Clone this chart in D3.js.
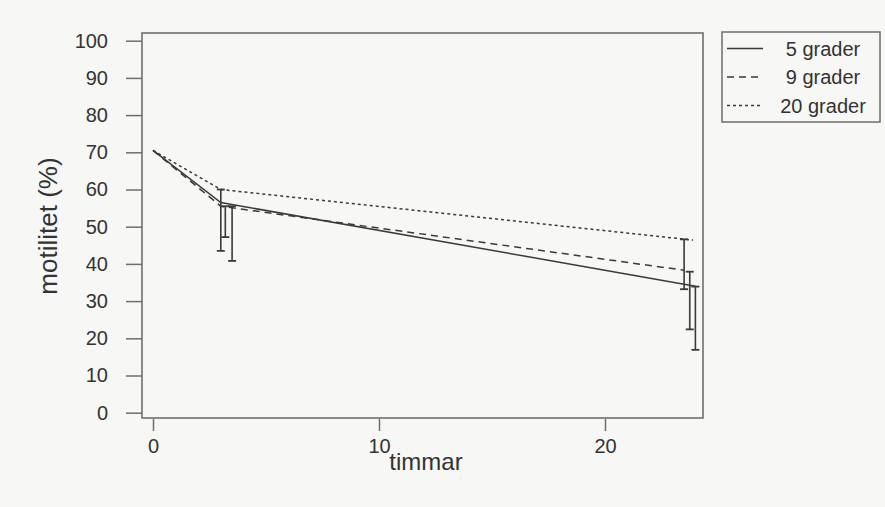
<!DOCTYPE html>
<html>
<head>
<meta charset="utf-8">
<script src="https://cdn.jsdelivr.net/npm/d3@7"></script>
<style>
  body { margin: 0; background: #f7f7f5; }
  svg { display: block; font-family: "Liberation Sans", Arial, sans-serif; }
</style>
</head>
<body>
<div id="chart"></div>
<script>
// data
const seriesNames = ["5 grader", "9 grader", "20 grader"];
const dashes = ["none", "7,5", "3,3"];

// line points per series (timmar, motilitet %)
const times5 = [0, 3, 24];
const values5 = [70.5, 56.5, 34];
const times9 = [0, 3, 23.5];
const values9 = [70.5, 55.5, 38.3];
const times20 = [0, 3, 23.9];
const values20 = [70.5, 60, 46.4];

// error bars (one-sided, from mean downward), slightly jittered in x
const errX5 = [3.5, 24];
const errTop5 = [55.5, 33.9];
const errLow5 = [40.8, 16.9];
const errX9 = [3.2, 23.75];
const errTop9 = [55.5, 37.9];
const errLow9 = [47.2, 22.4];
const errX20 = [3.0, 23.5];
const errTop20 = [60, 46.6];
const errLow20 = [43.5, 33.2];

const xTicks = [0, 10, 20];
const yTicks = [0, 10, 20, 30, 40, 50, 60, 70, 80, 90, 100];

const width = 885, height = 507;
const ink = "#3a3a3a", frame = "#6e6e6e", txt = "#333";

const svg = d3.select("#chart").append("svg")
  .attr("width", width)
  .attr("height", height);

svg.append("rect").attr("width", width).attr("height", height).attr("fill", "#f7f7f5");

const x = d3.scaleLinear().domain([0, 20]).range([153, 605]);
const y = d3.scaleLinear().domain([0, 100]).range([412.7, 40.7]);

// plot frame
svg.append("rect")
  .attr("x", 142).attr("y", 33)
  .attr("width", 703 - 142).attr("height", 418 - 33)
  .attr("fill", "none").attr("stroke", frame).attr("stroke-width", 1.6);

// y axis
const yAxis = svg.append("g")
  .attr("transform", "translate(142,0)")
  .call(d3.axisLeft(y).tickValues(yTicks).tickSize(16).tickPadding(18));
yAxis.select(".domain").remove();
yAxis.selectAll("line").attr("stroke", frame).attr("stroke-width", 1.5);
yAxis.selectAll("text").attr("fill", txt).style("font-size", "20px")
  .style("font-family", "Liberation Sans, Arial, sans-serif");

// x axis
const xAxis = svg.append("g")
  .attr("transform", "translate(0,419)")
  .call(d3.axisBottom(x).tickValues(xTicks).tickSize(12).tickPadding(8));
xAxis.select(".domain").remove();
xAxis.selectAll("line").attr("stroke", frame).attr("stroke-width", 1.5);
xAxis.selectAll("text").attr("fill", txt).style("font-size", "20px")
  .style("font-family", "Liberation Sans, Arial, sans-serif");

// axis titles
svg.append("text")
  .attr("x", 426).attr("y", 470)
  .attr("text-anchor", "middle")
  .attr("fill", txt).style("font-size", "24px")
  .text("timmar");

svg.append("text")
  .attr("transform", "translate(57,226) rotate(-90)")
  .attr("text-anchor", "middle")
  .attr("fill", txt).style("font-size", "26px")
  .text("motilitet (%)");

// build series
const series = [
  { name: seriesNames[0], dash: dashes[0], pts: times5.map((t, i) => [t, values5[i]]),
    err: errX5.map((t, i) => ({ t, top: errTop5[i], low: errLow5[i] })) },
  { name: seriesNames[1], dash: dashes[1], pts: times9.map((t, i) => [t, values9[i]]),
    err: errX9.map((t, i) => ({ t, top: errTop9[i], low: errLow9[i] })) },
  { name: seriesNames[2], dash: dashes[2], pts: times20.map((t, i) => [t, values20[i]]),
    err: errX20.map((t, i) => ({ t, top: errTop20[i], low: errLow20[i] })) }
];

const line = d3.line().x(d => x(d[0])).y(d => y(d[1]));

series.forEach(s => {
  svg.append("path")
    .datum(s.pts)
    .attr("d", line)
    .attr("fill", "none")
    .attr("stroke", ink)
    .attr("stroke-width", 1.5)
    .attr("stroke-dasharray", s.dash);

  const g = svg.append("g");
  s.err.forEach(e => {
    g.append("line")
      .attr("x1", x(e.t)).attr("x2", x(e.t))
      .attr("y1", y(e.top)).attr("y2", y(e.low))
      .attr("stroke", ink).attr("stroke-width", 1.6);
    [e.top, e.low].forEach(v => {
      g.append("line")
        .attr("x1", x(e.t) - 4).attr("x2", x(e.t) + 4)
        .attr("y1", y(v)).attr("y2", y(v))
        .attr("stroke", ink).attr("stroke-width", 1.8);
    });
  });
});

// legend
const legend = svg.append("g");
legend.append("rect")
  .attr("x", 722).attr("y", 32)
  .attr("width", 880 - 722).attr("height", 122 - 32)
  .attr("fill", "none").attr("stroke", frame).attr("stroke-width", 1.5);

series.forEach((s, i) => {
  const ly = 48.5 + i * 28.5;
  legend.append("line")
    .attr("x1", 727).attr("x2", 763)
    .attr("y1", ly).attr("y2", ly)
    .attr("stroke", ink).attr("stroke-width", 1.4)
    .attr("stroke-dasharray", s.dash);
  legend.append("text")
    .attr("x", 823).attr("y", ly + 7)
    .attr("text-anchor", "middle")
    .attr("fill", txt).style("font-size", "20px")
    .text(s.name);
});
</script>
</body>
</html>
